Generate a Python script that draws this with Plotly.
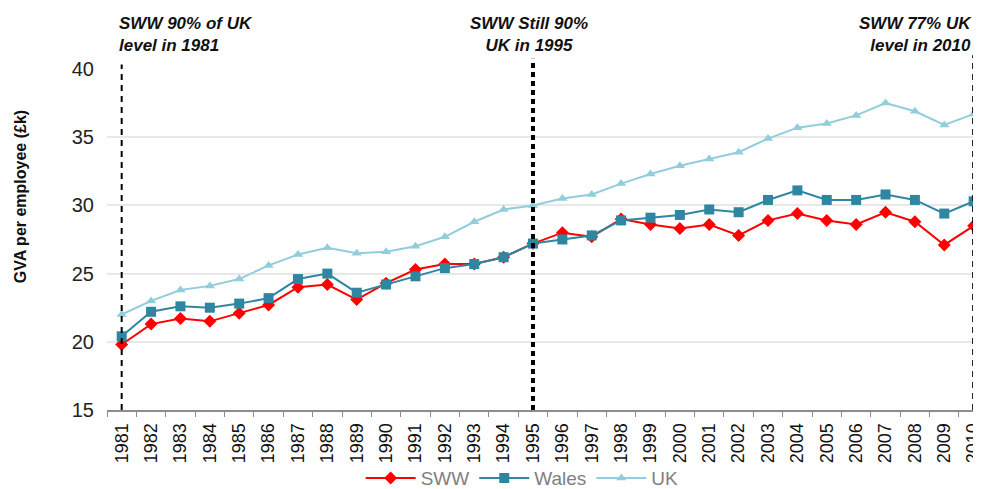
import plotly.graph_objects as go

years = [str(y) for y in range(1981, 2011)]
sww = [19.8, 21.3, 21.7, 21.5, 22.1, 22.7, 24.0, 24.2, 23.1, 24.3,
       25.3, 25.7, 25.7, 26.2, 27.2, 28.0, 27.7, 29.0, 28.6, 28.3,
       28.6, 27.8, 28.9, 29.4, 28.9, 28.6, 29.5, 28.8, 27.1, 28.5]
wales = [20.4, 22.2, 22.6, 22.5, 22.8, 23.2, 24.6, 25.0, 23.6, 24.2,
         24.8, 25.4, 25.7, 26.2, 27.2, 27.5, 27.8, 28.9, 29.1, 29.3,
         29.7, 29.5, 30.4, 31.1, 30.4, 30.4, 30.8, 30.4, 29.4, 30.3]
uk = [22.0, 23.0, 23.8, 24.1, 24.6, 25.6, 26.4, 26.9, 26.5, 26.6,
      27.0, 27.7, 28.8, 29.7, 30.0, 30.5, 30.8, 31.6, 32.3, 32.9,
      33.4, 33.9, 34.9, 35.7, 36.0, 36.6, 37.5, 36.9, 35.9, 36.7]
marker_years = ["1981", "1995", "2010"]
notes = ["SWW 90% of UK<br>level in 1981", "SWW Still 90%<br>UK in 1995", "SWW 77% UK<br>level in 2010"]

FONT = "Liberation Sans, Arial, sans-serif"

fig = go.Figure()
fig.add_trace(go.Scatter(x=years, y=sww, name="SWW", mode="lines+markers",
                         line=dict(color="#FF0000", width=2),
                         marker=dict(symbol="diamond", size=10, color="#FF0000"),
                         cliponaxis=False))
fig.add_trace(go.Scatter(x=years, y=wales, name="Wales", mode="lines+markers",
                         line=dict(color="#2E86A0", width=2),
                         marker=dict(symbol="square", size=10, color="#2E86A0"),
                         cliponaxis=False))
fig.add_trace(go.Scatter(x=years, y=uk, name="UK", mode="lines+markers",
                         line=dict(color="#92CDDC", width=2),
                         marker=dict(symbol="triangle-up", size=9, color="#92CDDC"),
                         cliponaxis=False))

# vertical reference lines
styles = [dict(width=2, dash="6px,5px", top=1.013),
          dict(width=4, dash="5px,4px", top=1.03),
          dict(width=3, dash="6px,5px", top=1.04)]
for yr, st in zip(marker_years, styles):
    i = years.index(yr)
    fig.add_shape(type="line", xref="x", yref="paper", x0=i, x1=i, y0=0, y1=st["top"],
                  line=dict(color="#000000", width=st["width"], dash=st["dash"]))

anchors = ["left", "center", "right"]
offsets = [-0.15, -0.15, 0.0]
for yr, txt, anc, off in zip(marker_years, notes, anchors, offsets):
    i = years.index(yr)
    fig.add_annotation(x=i + off, y=1.1, xref="x", yref="paper", text="<b><i>" + txt + "</i></b>",
                       showarrow=False, xanchor=anc, yanchor="middle", align=anc,
                       font=dict(family=FONT, size=17, color="#111111"))

fig.add_annotation(x=-0.098, y=0.625, xref="paper", yref="paper", text="<b>GVA per employee (£k)</b>",
                   textangle=-90, showarrow=False, xanchor="center", yanchor="middle",
                   font=dict(family=FONT, size=16, color="#111111"))

# page body has an 8px margin: figure is shifted by 8px, so size/margins compensate
fig.update_layout(
    width=973, height=481,
    margin=dict(l=99, r=0, t=61, b=79, autoexpand=False),
    paper_bgcolor="white", plot_bgcolor="white",
    showlegend=True,
    legend=dict(orientation="h", x=0.475, xanchor="center", yref="container", y=0.062, yanchor="top",
                bgcolor="rgba(0,0,0,0)",
                font=dict(family=FONT, size=19, color="#808080"), itemwidth=50),
    xaxis=dict(type="category", range=[-0.5, 29.25], tickangle=-90, tickson="boundaries",
               ticks="outside", ticklen=5, tickcolor="#8c8c8c", showline=True,
               linecolor="#8c8c8c", linewidth=2, showgrid=False, automargin=False,
               ticklabelstandoff=4,
               tickfont=dict(family=FONT, size=18, color="#111111")),
    yaxis=dict(range=[15, 40], dtick=5, showgrid=True, gridcolor="#E8E8E8", gridwidth=2,
               zeroline=False, showline=False, ticks="", ticklen=0, ticklabelstandoff=12,
               automargin=False,
               tickfont=dict(family=FONT, size=20, color="#222222")),
)

fig.write_html("out.html")
